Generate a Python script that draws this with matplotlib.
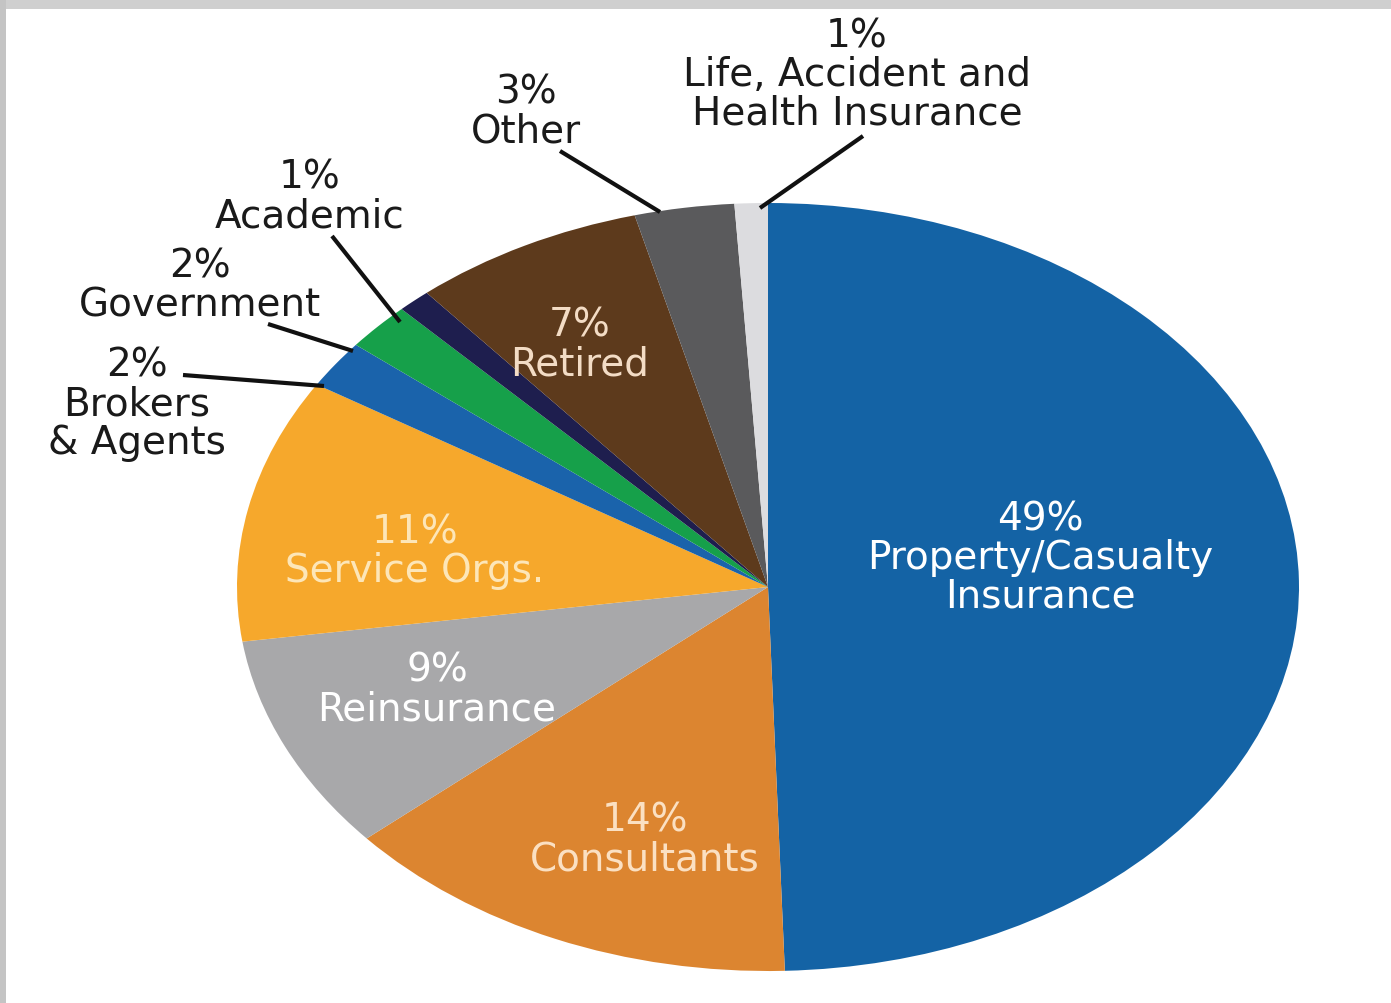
import matplotlib.pyplot as plt
from matplotlib.patches import Rectangle

# dados do gráfico
categorias = ["Property/Casualty\nInsurance", "Consultants", "Reinsurance", "Service Orgs.",
              "Brokers\n& Agents", "Government", "Academic", "Retired", "Other",
              "Life, Accident and\nHealth Insurance"]
valores = [49, 14, 9, 11, 2, 2, 1, 7, 3, 1]
cores = ['#1463a5', '#dc8530', '#a8a8aa', '#f6a82c', '#1a63ab',
         '#16a04a', '#1e1e4e', '#5d3a1c', '#5a5a5c', '#dcdcdf']

W, H = 1391, 1004
cx, cy, rx, ry = 768, 588, 531, 384

def dc(px, py):
    # pixel da imagem -> coordenada dos dados
    return (px - cx) / rx, (cy - py) / ry

fig = plt.figure(figsize=(W / 100, H / 100), dpi=100)
fig.patch.set_facecolor('white')

# moldura cinza (topo e esquerda)
fig.patches.append(Rectangle((0, 1 - 10 / H), 1, 10 / H, transform=fig.transFigure,
                             facecolor='#cfcfcf', edgecolor='none'))
fig.patches.append(Rectangle((0, 0), 6 / W, 1, transform=fig.transFigure,
                             facecolor='#c4c4c4', edgecolor='none'))

ax = fig.add_axes([(cx - rx) / W, (H - cy - ry) / H, 2 * rx / W, 2 * ry / H])
ax.pie(valores, colors=cores, startangle=90, counterclock=False,
       wedgeprops=dict(linewidth=0))
ax.set_aspect('auto')
ax.set_xlim(-1, 1)
ax.set_ylim(-1, 1)
ax.axis('off')

fs = 28
ls = 1.02

# rótulos internos
internos = [
    (0, (1040, 558), 'white'),
    (1, (645, 840), '#fbe0c2'),
    (2, (437, 690), 'white'),
    (3, (415, 552), '#fde6b8'),
    (7, (580, 345), '#f3dcc5'),
]
for i, (px, py), c in internos:
    x, y = dc(px, py)
    ax.text(x, y, f"{valores[i]}%\n{categorias[i]}", ha='center', va='center',
            color=c, fontsize=fs, linespacing=ls, clip_on=False)

# rótulos externos com linhas
externos = [
    (9, (857, 75), (863, 137), (760, 209)),
    (8, (526, 112), (560, 152), (660, 213)),
    (6, (310, 197), (332, 237), (400, 323)),
    (5, (200, 286), (268, 325), (353, 352)),
    (4, (137, 404), (183, 376), (324, 387)),
]
for i, (px, py), p0, p1 in externos:
    x, y = dc(px, py)
    ax.text(x, y, f"{valores[i]}%\n{categorias[i]}", ha='center', va='center',
            color='#1a1a1a', fontsize=fs, linespacing=ls, clip_on=False)
    x0, y0 = dc(*p0)
    x1, y1 = dc(*p1)
    ax.plot([x0, x1], [y0, y1], color='#111111', lw=3, clip_on=False,
            solid_capstyle='butt')

plt.savefig('out.png', dpi=100)
